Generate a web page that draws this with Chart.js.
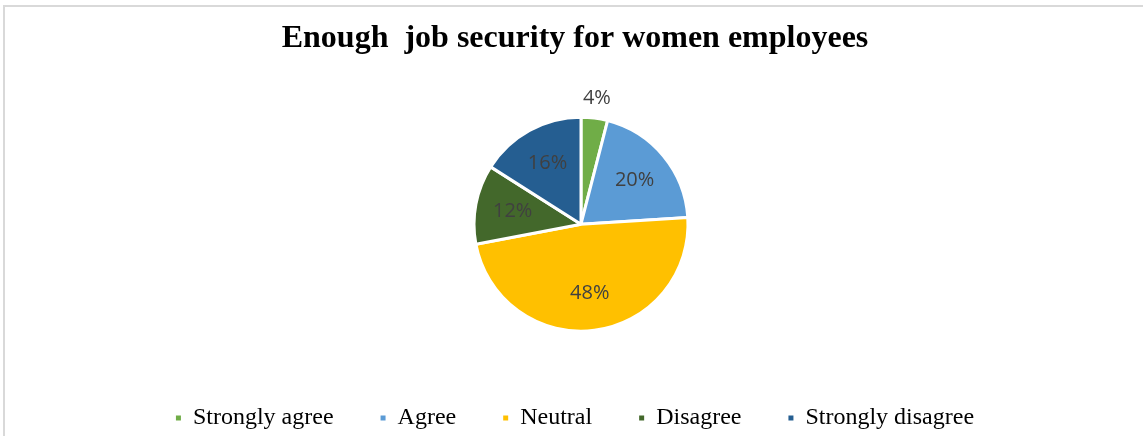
<!DOCTYPE html>
<html><head><meta charset="utf-8">
<script src="https://cdn.jsdelivr.net/npm/chart.js@4"></script>
<style>
html,body{margin:0;padding:0;background:#fff;overflow:hidden;width:1143px;height:436px;}
#frame{position:absolute;left:3px;top:5px;width:1170px;height:450px;border-left:2px solid #d9d9d9;border-top:2px solid #d9d9d9;}
canvas{position:absolute;left:0;top:0;}
</style></head><body>
<div id="frame"><canvas id="c" width="1140" height="433"></canvas></div>
<script>
const chartTitle = 'Enough  job security for women employees';
const categories = ['Strongly agree', 'Agree', 'Neutral', 'Disagree', 'Strongly disagree'];
const shares = [4, 20, 48, 12, 16];
const sliceColors = ['#70AD47', '#5B9BD5', '#FFC000', '#43682B', '#255E91'];

const serif = '"Liberation Serif", "Times New Roman", serif';

const pieLabels = {
  id: 'pieLabels',
  afterLayout(chart) {
    // plot area sits slightly right of the chart's centre in the original
    chart.chartArea.left += 12;
  },
  afterDraw(chart) {
    const ctx = chart.ctx;
    const meta = chart.getDatasetMeta(0);
    ctx.save();
    ctx.font = '20px "Open Sans", sans-serif';
    ctx.fillStyle = '#404040';
    ctx.textAlign = 'center';
    ctx.textBaseline = 'middle';
    meta.data.forEach((arc, i) => {
      const p = arc.getProps(['x', 'y', 'startAngle', 'endAngle', 'outerRadius'], true);
      const mid = (p.startAngle + p.endAngle) / 2;
      const r = shares[i] < 5 ? p.outerRadius + 20 : p.outerRadius * 0.65;
      ctx.fillText(shares[i] + '%', p.x + Math.cos(mid) * r, p.y + Math.sin(mid) * r);
    });
    ctx.restore();
  }
};

new Chart(document.getElementById('c'), {
  type: 'pie',
  data: {
    labels: categories,
    datasets: [{
      data: shares,
      backgroundColor: sliceColors,
      borderColor: '#ffffff',
      borderWidth: 3,
      radius: 107
    }]
  },
  options: {
    responsive: false,
    animation: false,
    devicePixelRatio: 1,
    layout: { padding: 0 },
    plugins: {
      title: {
        display: true,
        text: chartTitle,
        color: '#000000',
        font: { family: serif, size: 32, weight: 'bold' },
        padding: { top: 13, bottom: 31 }
      },
      legend: {
        position: 'bottom',
        labels: {
          color: '#000000',
          font: { family: serif, size: 24 },
          boxWidth: 5,
          boxHeight: 5,
          padding: 47,
          generateLabels(chart) {
            const items = Chart.overrides.pie.plugins.legend.labels.generateLabels(chart);
            items.forEach(it => { it.lineWidth = 0; it.strokeStyle = it.fillStyle; });
            return items;
          }
        }
      },
      tooltip: { enabled: false }
    }
  },
  plugins: [pieLabels]
});
</script>
</body></html>
